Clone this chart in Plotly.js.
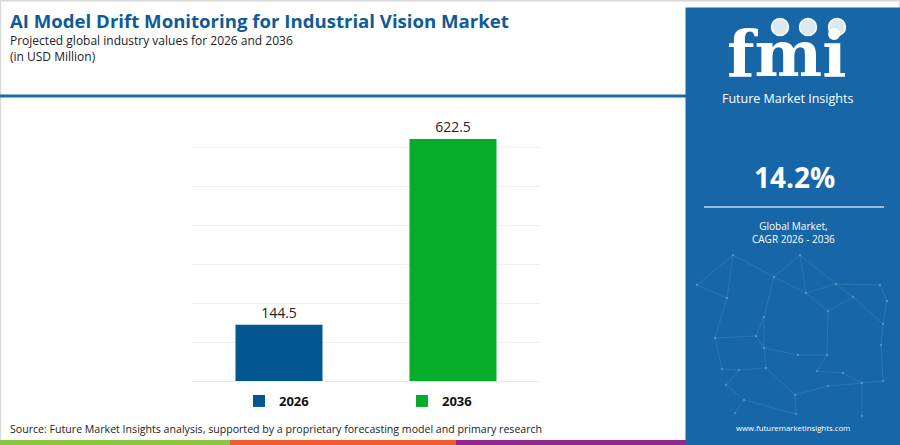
<!DOCTYPE html>
<html>
<head>
<meta charset="utf-8">
<script src="https://cdn.plot.ly/plotly-3.0.1.min.js"></script>
<style>html,body{margin:0;padding:0;background:#fff;}#chart{width:900px;height:445px;}</style>
</head>
<body>
<div id="chart"></div>
<script>
// ---- data ----
const categories = ["2026", "2036"];
const values = [144.5, 622.5];
const valueLabels = ["144.5", "622.5"];
const barColors = ["#02578e", "#06ad2b"];
const cagrText = "14.2%";

const titleText = "AI Model Drift Monitoring for Industrial Vision Market";
const subtitle1 = "Projected global industry values for 2026 and 2036";
const subtitle2 = "(in USD Million)";
const sourceText = "Source: Future Market Insights analysis, supported by a proprietary forecasting model and primary research";

// ---- geometry helpers (pixel -> paper) ----
const W = 900, H = 445;
const M = {l: 192, r: 360, t: 109, b: 64};
const PW = W - M.l - M.r, PH = H - M.t - M.b;
const px = X => (X - M.l) / PW;
const py = Y => (H - M.b - Y) / PH;

const FONT = "Open Sans, Noto Sans, sans-serif";
const panel = "#1767a8";

const traces = categories.map((c, i) => ({
  type: "bar",
  x: [c],
  y: [values[i]],
  name: c,
  text: [valueLabels[i]],
  textposition: "outside",
  textfont: {family: FONT, size: 14, color: "#222"},
  cliponaxis: false,
  marker: {color: barColors[i]},
  hoverinfo: "none"
}));

const shapes = [];
// outer frame
shapes.push({type: "rect", xref: "paper", yref: "paper", x0: px(0.5), x1: px(899.5), y0: py(444.5), y1: py(0.8),
  line: {color: "#d9d9d9", width: 1.5}, fillcolor: "rgba(0,0,0,0)", layer: "below"});
// header underline
shapes.push({type: "line", xref: "paper", yref: "paper", x0: px(0), x1: px(686), y0: py(96), y1: py(96),
  line: {color: "#1a6aa8", width: 3}});
// right panel
shapes.push({type: "rect", xref: "paper", yref: "paper", x0: px(685.5), x1: px(900), y0: py(445), y1: py(7.5),
  line: {width: 0}, fillcolor: panel});
// network decoration
const nodes = [[733,255],[800,255],[697,285],[727,298],[774,277],[806,293],[836,284],[880,285],[887,301],[853,297],
  [828,311],[764,317],[715,338],[756,336],[883,324],[881,345],[764,348],[798,355],[827,355],[722,369],
  [739,370],[766,368],[817,371],[843,373],[726,385],[744,400],[795,395],[828,386],[862,383],[883,381],
  [735,413],[796,414],[862,416]];
const edges = [[0,3],[0,4],[1,4],[1,5],[2,3],[3,12],[4,5],[5,6],[6,7],[7,8],[6,9],[9,10],[5,10],[4,11],[11,13],
  [12,13],[13,16],[11,16],[16,17],[17,18],[10,18],[14,15],[8,14],[15,29],[18,22],[22,23],[23,28],[28,29],
  [19,20],[12,19],[20,21],[21,16],[20,24],[24,25],[25,30],[21,26],[26,27],[27,28],[25,31],[26,31],[28,32],[9,14],[1,6],[2,0]];
edges.forEach(e => {
  const a = nodes[e[0]], b = nodes[e[1]];
  shapes.push({type: "line", xref: "paper", yref: "paper", x0: px(a[0]), y0: py(a[1]), x1: px(b[0]), y1: py(b[1]),
    line: {color: "rgba(255,255,255,0.09)", width: 1}});
});
nodes.forEach(n => {
  shapes.push({type: "circle", xref: "paper", yref: "paper", x0: px(n[0]-1.2), x1: px(n[0]+1.2), y0: py(n[1]-1.2), y1: py(n[1]+1.2),
    line: {width: 0}, fillcolor: "rgba(255,255,255,0.22)"});
});
// logo globes
[[780,27],[808,27],[837,27]].forEach(g => {
  shapes.push({type: "circle", xref: "paper", yref: "paper", x0: px(g[0]-8.5), x1: px(g[0]+8.5), y0: py(g[1]-8.5), y1: py(g[1]+8.5),
    line: {color: "#ffffff", width: 1.5}, fillcolor: "rgba(255,255,255,0.85)"});
});
// divider in panel
shapes.push({type: "line", xref: "paper", yref: "paper", x0: px(704), x1: px(884), y0: py(207), y1: py(207),
  line: {color: "rgba(255,255,255,0.75)", width: 1.5}});
// bottom colour stripe
[["#8dc63f", 0, 230], ["#f15a29", 230, 456], ["#92278f", 456, 686]].forEach(s => {
  shapes.push({type: "rect", xref: "paper", yref: "paper", x0: px(s[1]), x1: px(s[2]), y0: py(445), y1: py(440),
    line: {width: 0}, fillcolor: s[0]});
});

const ann = (text, X, Y, size, color, opts = {}) => Object.assign({
  text, xref: "paper", yref: "paper", x: px(X), y: py(Y), showarrow: false,
  xanchor: "left", yanchor: "middle", align: "left", font: {family: FONT, size, color}
}, opts);

const annotations = [
  ann("<b>" + titleText + "</b>", 8, 20, 18.6, "#0e5b97"),
  ann(subtitle1 + "<br>" + subtitle2, 8, 49, 12, "#222"),
  ann(sourceText, 8, 429, 10.6, "#222"),
  ann("<b>fmi</b>", 787, 53, 64, "#ffffff", {xanchor: "center", font: {family: "DejaVu Serif, serif", size: 64, color: "#fff"}}),
  ann("Future Market Insights", 787, 99, 12.5, "#ffffff", {xanchor: "center"}),
  ann("<b>" + cagrText + "</b>", 794, 177, 28, "#ffffff", {xanchor: "center"}),
  ann("Global Market,<br>CAGR 2026 - 2036", 793, 232, 10, "#ffffff", {xanchor: "center", align: "center"}),
  ann("www.futuremarketinsights.com", 793, 428, 7.8, "#ffffff", {xanchor: "center"})
];

const layout = {
  width: W, height: H,
  margin: M,
  paper_bgcolor: "#ffffff",
  plot_bgcolor: "#ffffff",
  barmode: "overlay",
  bargap: 0.5,
  showlegend: true,
  legend: {
    orientation: "h", x: px(239), xanchor: "left", y: py(401), yanchor: "middle",
    font: {family: FONT, size: 13, color: "#111", weight: "bold"},
    entrywidth: 118, itemwidth: 30, bgcolor: "rgba(0,0,0,0)"
  },
  xaxis: {type: "category", categoryarray: categories, showticklabels: false, showgrid: false,
    zeroline: false, showline: false, ticks: "", fixedrange: true},
  yaxis: {range: [0, 700], dtick: 100, showticklabels: false, showgrid: true, gridcolor: "#efefef",
    gridwidth: 1, zeroline: true, zerolinecolor: "#e8e8e8", zerolinewidth: 1, showline: false, ticks: "", fixedrange: true},
  shapes, annotations,
  font: {family: FONT}
};

Plotly.newPlot("chart", traces, layout, {displayModeBar: false, staticPlot: true});
</script>
</body>
</html>
